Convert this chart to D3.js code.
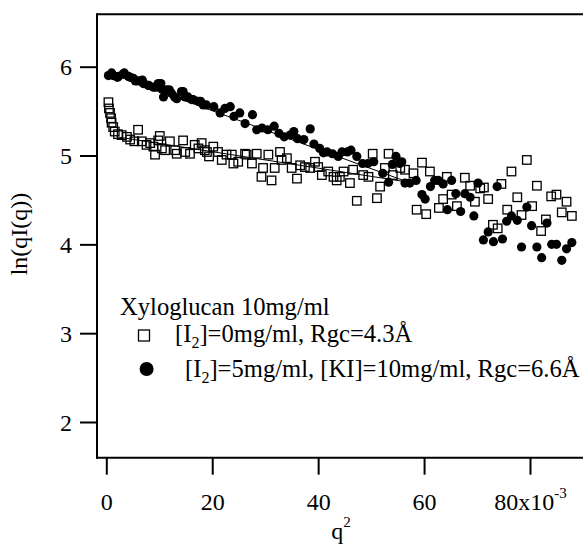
<!DOCTYPE html>
<html>
<head>
<meta charset="utf-8">
<script src="https://cdn.jsdelivr.net/npm/d3@7"></script>
<style>
  html, body { margin: 0; padding: 0; background: #fff; }
  svg { display: block; }
  text { font-family: "Liberation Serif", "Times New Roman", serif; fill: #000; }
</style>
</head>
<body>
<svg id="chart" width="583" height="544"></svg>
<script>
// ---------- data ----------
const xTicks = [0, 20, 40, 60, 80];
const xTickLabels = ["0", "20", "40", "60", "80x10"];
const yTicks = [2, 3, 4, 5, 6];
const yTickLabels = ["2", "3", "4", "5", "6"];

// [I2]=0mg/ml (open squares): q^2 (x10^-3), ln(qI(q))
const squaresX = [0.4,0.5,0.7,0.9,1.0,1.3,1.6,2.2,2.9,3.9,4.5,5.3,6.0,6.7,7.6,8.3,8.9,9.2,9.8,10.1,10.5,11.1,12.0,13.0,13.3,14.5,14.9,15.8,16.7,17.4,18.0,18.6,19.0,19.4,20.2,21.1,21.8,22.7,23.7,24.0,24.9,26.2,26.5,27.5,28.4,29.3,29.6,30.6,31.2,31.8,32.8,33.1,34.1,35.0,36.0,36.6,37.5,38.5,39.4,40.0,40.7,41.9,42.9,43.5,44.1,44.8,46.0,46.6,47.3,48.5,49.5,50.3,51.1,51.7,52.6,53.3,54.1,55.5,56.4,58.0,58.6,59.6,60.4,61.1,62.8,63.6,64.3,65.2,66.2,67.7,68.7,69.6,70.6,71.3,72.1,73.0,73.9,74.6,75.7,76.5,77.6,78.4,79.4,80.4,81.3,82.1,83.0,84.0,85.0,86.0,86.9,87.9];
const squaresY = [5.60,5.53,5.48,5.42,5.37,5.32,5.27,5.24,5.23,5.21,5.18,5.16,5.29,5.16,5.12,5.14,5.10,5.01,5.17,5.22,5.08,5.06,5.16,5.06,5.02,5.17,5.04,5.02,5.12,5.08,5.14,5.06,5.04,4.99,5.10,5.04,4.95,5.01,5.01,4.91,4.93,5.02,5.01,4.91,5.02,4.76,4.86,5.01,4.72,4.86,5.04,4.95,4.97,4.86,4.74,4.89,4.87,4.86,4.93,4.87,4.78,4.82,4.76,4.72,4.76,4.82,4.69,4.84,4.49,4.78,4.76,5.02,4.52,4.65,4.86,5.02,4.78,4.86,4.84,4.80,4.39,4.92,4.34,4.82,4.41,4.51,4.76,4.56,4.43,4.75,4.66,4.48,4.63,4.64,4.51,4.22,4.18,4.68,4.39,4.82,4.53,4.33,4.95,4.43,4.66,4.15,4.28,4.54,4.56,4.36,4.48,4.32];

// [I2]=5mg/ml, [KI]=10mg/ml (filled circles)
const circlesX = [0.4,1.0,1.3,2.1,2.3,3.2,3.4,4.2,4.5,5.1,5.5,6.0,6.8,7.0,7.9,8.0,8.9,9.4,9.8,10.3,10.5,10.8,11.4,11.9,12.3,12.9,13.3,14.2,14.5,14.9,15.4,16.1,16.4,17.4,17.8,18.3,18.9,20.3,21.5,22.4,23.4,24.1,25.2,26.2,27.6,28.4,29.4,30.5,31.7,32.6,33.6,34.7,35.4,36.1,37.3,38.5,39.2,40.3,41.0,41.7,42.7,43.8,44.5,45.5,46.2,47.3,48.4,49.4,50.5,52.2,53.3,54.0,54.7,55.4,55.8,56.4,57.3,58.5,59.6,60.2,61.2,62.0,62.7,63.6,64.4,65.2,66.0,66.9,67.7,68.7,69.4,70.2,71.2,72.1,73.1,73.8,74.8,75.6,76.5,77.6,78.4,79.4,80.3,81.3,82.2,83.2,84.1,85.0,86.0,86.9,87.9];
const circlesY = [5.90,5.93,5.90,5.88,5.89,5.92,5.93,5.89,5.88,5.87,5.84,5.84,5.85,5.81,5.79,5.79,5.77,5.77,5.81,5.81,5.75,5.66,5.74,5.74,5.70,5.66,5.64,5.72,5.72,5.66,5.66,5.63,5.63,5.61,5.61,5.57,5.57,5.55,5.48,5.53,5.55,5.44,5.48,5.36,5.46,5.29,5.31,5.29,5.33,5.25,5.21,5.23,5.27,5.19,5.18,5.30,5.13,5.08,5.03,5.04,5.02,4.99,5.04,5.04,5.06,4.99,4.91,4.91,4.93,4.80,4.70,4.90,4.99,4.91,4.93,4.69,4.69,4.72,4.56,4.51,4.65,4.72,4.72,4.68,4.39,4.72,4.57,4.37,4.57,4.53,4.32,4.69,4.05,4.14,4.03,4.65,4.06,4.26,4.32,4.27,3.97,4.42,4.21,3.97,3.85,4.24,4.00,4.00,3.82,3.95,4.02];

// Guinier fit lines (endpoints)
const fitSquaresX = [2, 56];
const fitSquaresY = [5.21, 4.71];
const fitCirclesX = [0, 57];
const fitCirclesY = [5.94, 4.70];

const legendTitle = "Xyloglucan 10mg/ml";
const legendSquare = ["[I", "2", "]=0mg/ml, Rgc=4.3Å"];
const legendCircle = ["[I", "2", "]=5mg/ml, [KI]=10mg/ml, Rgc=6.6Å"];

// ---------- drawing ----------
const svg = d3.select("#chart");
const FS = 24;
const LFS = 24.6;

const x = d3.scaleLinear().domain([0, 80]).range([106.3, 530]);
const y = d3.scaleLinear().domain([2, 6]).range([422, 66.7]);

const axisLeftX = 97, axisTopY = 14.3, axisBottomY = 457.7, rightX = 583;

// frame
svg.append("line").attr("x1", axisLeftX).attr("x2", rightX).attr("y1", axisTopY).attr("y2", axisTopY)
  .attr("stroke", "#000").attr("stroke-width", 2);
svg.append("line").attr("x1", axisLeftX).attr("x2", axisLeftX).attr("y1", axisTopY - 1).attr("y2", axisBottomY + 1)
  .attr("stroke", "#000").attr("stroke-width", 2);
svg.append("line").attr("x1", axisLeftX - 1).attr("x2", rightX).attr("y1", axisBottomY).attr("y2", axisBottomY)
  .attr("stroke", "#000").attr("stroke-width", 2);

// y axis
const yAxis = d3.axisLeft(y).tickValues(yTicks).tickSize(17).tickPadding(8)
  .tickFormat((d, i) => yTickLabels[i]);
const gy = svg.append("g").attr("transform", `translate(${axisLeftX},0)`).call(yAxis);
gy.select(".domain").remove();
gy.selectAll(".tick line").attr("stroke", "#000").attr("stroke-width", 2);
gy.selectAll(".tick text").attr("font-size", FS).attr("font-family", "Liberation Serif").attr("dy", "0.34em").attr("fill", "#000");

// x axis
const xAxis = d3.axisBottom(x).tickValues(xTicks).tickSize(17).tickPadding(18)
  .tickFormat((d, i) => xTickLabels[i]);
const gx = svg.append("g").attr("transform", `translate(0,${axisBottomY})`).call(xAxis);
gx.select(".domain").remove();
gx.selectAll(".tick line").attr("stroke", "#000").attr("stroke-width", 2);
gx.selectAll(".tick text").attr("font-size", FS).attr("font-family", "Liberation Serif").attr("fill", "#000");
gx.selectAll(".tick text").filter((d) => d === 80)
  .append("tspan").attr("font-size", 15).attr("dy", "-0.75em").text("-3");

// axis titles
svg.append("text").attr("transform", "translate(27,234) rotate(-90)")
  .attr("text-anchor", "middle").attr("font-size", FS).text("ln(qI(q))");
const xt = svg.append("text").attr("x", 341).attr("y", 539).attr("text-anchor", "middle").attr("font-size", FS);
xt.append("tspan").text("q");
xt.append("tspan").attr("font-size", 15).attr("dy", -12).text("2");

// fit lines
const line = d3.line().x(d => x(d[0])).y(d => y(d[1]));
svg.append("path").datum(d3.zip(fitSquaresX, fitSquaresY)).attr("d", line)
  .attr("fill", "none").attr("stroke", "#000").attr("stroke-width", 1);
svg.append("path").datum(d3.zip(fitCirclesX, fitCirclesY)).attr("d", line)
  .attr("fill", "none").attr("stroke", "#000").attr("stroke-width", 1);

// open squares
const sq = 8.5;
svg.append("g").selectAll("rect").data(d3.zip(squaresX, squaresY)).join("rect")
  .attr("x", d => x(d[0]) - sq / 2).attr("y", d => y(d[1]) - sq / 2)
  .attr("width", sq).attr("height", sq)
  .attr("fill", "none").attr("stroke", "#000").attr("stroke-width", 1.3);

// filled circles
svg.append("g").selectAll("circle").data(d3.zip(circlesX, circlesY)).join("circle")
  .attr("cx", d => x(d[0])).attr("cy", d => y(d[1])).attr("r", 4.6)
  .attr("fill", "#000");

// legend
svg.append("text").attr("x", 120).attr("y", 315).attr("font-size", LFS).text(legendTitle);
svg.append("rect").attr("x", 138.5).attr("y", 330).attr("width", 11).attr("height", 11)
  .attr("fill", "none").attr("stroke", "#000").attr("stroke-width", 1.3);
const t1 = svg.append("text").attr("x", 175).attr("y", 342).attr("font-size", LFS);
t1.append("tspan").text(legendSquare[0]);
t1.append("tspan").attr("font-size", 16).attr("dy", 6).text(legendSquare[1]);
t1.append("tspan").attr("dy", -6).text(legendSquare[2]);
svg.append("circle").attr("cx", 146.6).attr("cy", 369).attr("r", 7).attr("fill", "#000");
const t2 = svg.append("text").attr("x", 185).attr("y", 377).attr("font-size", LFS);
t2.append("tspan").text(legendCircle[0]);
t2.append("tspan").attr("font-size", 16).attr("dy", 6).text(legendCircle[1]);
t2.append("tspan").attr("dy", -6).text(legendCircle[2]);
</script>
</body>
</html>
